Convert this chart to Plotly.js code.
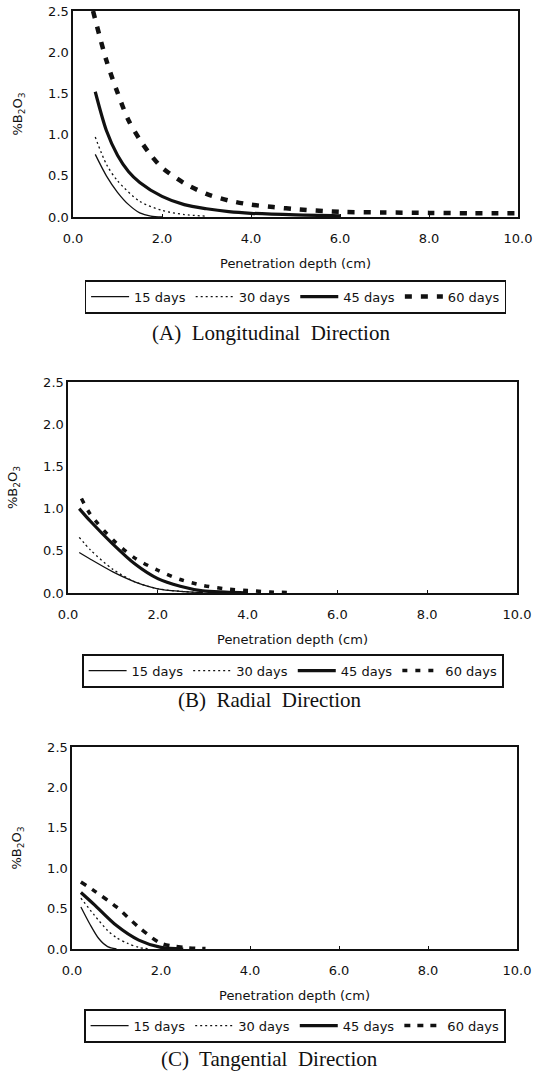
<!DOCTYPE html>
<html><head><meta charset="utf-8">
<script src="https://cdn.plot.ly/plotly-3.0.1.min.js"></script>
<style>html,body{margin:0;padding:0;background:#fff;}#chart{width:539px;height:1075px;}</style>
</head><body><div id="chart"></div>
<script>
// ---- data ----
const seriesNames = ["15 days", "30 days", "45 days", "60 days"];
const captions = ["(A)\u00a0 Longitudinal\u00a0 Direction", "(B)\u00a0 Radial\u00a0 Direction", "(C)\u00a0 Tangential\u00a0 Direction"];
const xTickVals = [0, 2, 4, 6, 8, 10];
const yTickVals = [0, 0.5, 1.0, 1.5, 2.0, 2.5];

// (A) Longitudinal
const xA15 = [0.5, 0.75, 1.0, 1.25, 1.5, 1.75, 2.0];
const yA15 = [0.76, 0.5, 0.3, 0.15, 0.05, 0.01, 0.0];
const xA30 = [0.5, 0.75, 1.0, 1.5, 2.0, 2.5, 3.0];
const yA30 = [0.97, 0.64, 0.44, 0.19, 0.08, 0.03, 0.01];
const xA45 = [0.5, 0.75, 1.0, 1.25, 1.5, 2.0, 2.5, 3.0, 3.5, 4.0, 5.0, 6.0];
const yA45 = [1.52, 1.05, 0.75, 0.55, 0.42, 0.25, 0.15, 0.1, 0.065, 0.045, 0.025, 0.015];
const xA60 = [0.45, 0.75, 1.0, 1.25, 1.5, 1.75, 2.0, 2.5, 3.0, 3.5, 4.0, 4.5, 5.0, 6.0, 7.0, 8.0, 9.0, 10.0];
const yA60 = [2.5, 1.9, 1.51, 1.17, 0.94, 0.75, 0.6, 0.41, 0.28, 0.2, 0.15, 0.12, 0.095, 0.062, 0.055, 0.05, 0.045, 0.045];

// (B) Radial
const xB15 = [0.25, 0.5, 1.0, 1.5, 2.0, 2.5, 3.0];
const yB15 = [0.48, 0.40, 0.25, 0.13, 0.05, 0.02, 0.005];
const xB30 = [0.25, 0.5, 1.0, 1.5, 2.0, 2.5, 3.0];
const yB30 = [0.66, 0.51, 0.28, 0.13, 0.05, 0.02, 0.005];
const xB45 = [0.25, 0.5, 1.0, 1.5, 2.0, 2.5, 3.0, 3.5, 4.0];
const yB45 = [1.0, 0.85, 0.58, 0.34, 0.17, 0.08, 0.025, 0.01, 0.0];
const xB60 = [0.3, 0.5, 1.0, 1.5, 2.0, 2.5, 3.0, 3.5, 4.0, 4.5, 5.0];
const yB60 = [1.12, 0.93, 0.63, 0.41, 0.27, 0.16, 0.09, 0.05, 0.03, 0.012, 0.005];

// (C) Tangential
const xC15 = [0.2, 0.4, 0.6, 0.8, 1.0];
const yC15 = [0.52, 0.31, 0.13, 0.03, 0.0];
const xC30 = [0.2, 0.5, 0.8, 1.0, 1.25, 1.5, 1.75];
const yC30 = [0.63, 0.42, 0.23, 0.14, 0.07, 0.02, 0.0];
const xC45 = [0.2, 0.5, 1.0, 1.5, 2.0, 2.5];
const yC45 = [0.7, 0.55, 0.29, 0.11, 0.02, 0.0];
const xC60 = [0.2, 0.5, 1.0, 1.5, 2.0, 2.5, 3.0];
const yC60 = [0.83, 0.72, 0.52, 0.27, 0.07, 0.02, 0.005];

// ---- styling ----
const ink = "#111";
const panels = [
  {xs: [xA15, xA30, xA45, xA60], ys: [yA15, yA30, yA45, yA60], dash60: "7px,9px", w60: 4.5},
  {xs: [xB15, xB30, xB45, xB60], ys: [yB15, yB30, yB45, yB60], dash60: "5px,8px", w60: 3.5},
  {xs: [xC15, xC30, xC45, xC60], ys: [yC15, yC30, yC45, yC60], dash60: "6px,7px", w60: 3.5}
];
const lineStyles = [
  {width: 1.3, dash: "solid"},
  {width: 1.3, dash: "2px,3px"},
  {width: 3.2, dash: "solid"},
  null
];
const legendNames = ["legend", "legend2", "legend3"];

const traces = [];
panels.forEach((p, pi) => {
  const sfx = pi === 0 ? "" : String(pi + 1);
  for (let s = 0; s < 4; s++) {
    const ls = s === 3 ? {width: p.w60, dash: p.dash60} : lineStyles[s];
    traces.push({
      type: "scatter", mode: "lines",
      x: p.xs[s], y: p.ys[s], name: seriesNames[s],
      xaxis: "x" + sfx, yaxis: "y" + sfx,
      legend: legendNames[pi],
      line: {color: ink, width: ls.width, dash: ls.dash, shape: "spline", smoothing: 0.8},
      hoverinfo: "x+y"
    });
  }
});

const tickFont = {family: "DejaVu Sans, Liberation Sans, sans-serif", size: 13, color: ink};
function xAxis(domain, anchor) {
  return {
    domain: domain, anchor: anchor, range: [0, 10],
    tickvals: xTickVals, tickformat: ".1f",
    ticks: "inside", ticklen: 3, tickcolor: ink, tickwidth: 1,
    showline: true, linecolor: ink, linewidth: 1.6, mirror: true,
    showgrid: false, zeroline: false, fixedrange: true,
    tickfont: tickFont, ticklabelstandoff: 9,
    title: {text: "Penetration depth (cm)", font: {family: "DejaVu Sans, sans-serif", size: 13, color: ink}, standoff: 13},
    automargin: false
  };
}
function yAxis(domain, anchor) {
  return {
    domain: domain, anchor: anchor, range: [0, 2.5],
    tickvals: yTickVals, tickformat: ".1f",
    ticks: "", showline: true, linecolor: ink, linewidth: 1.6, mirror: true,
    showgrid: false, zeroline: false, fixedrange: true,
    tickfont: tickFont, ticklabelstandoff: 0,
    title: {text: "%B<sub>2</sub>O<sub>3</sub>", font: {family: "DejaVu Sans, sans-serif", size: 13, color: ink}, standoff: 22},
    automargin: false
  };
}
function legendBox(xc, ytop) {
  return {
    orientation: "h", x: xc, xanchor: "center", y: ytop, yanchor: "top",
    bordercolor: ink, borderwidth: 1.6, bgcolor: "#fff",
    itemwidth: 38,
    font: {family: "DejaVu Sans, sans-serif", size: 13, color: ink},
    itemclick: false, itemdoubleclick: false
  };
}
const W = 539, H = 1075;
const px = v => v / W, py = v => 1 - v / H;

const layout = {
  width: W, height: H,
  margin: {l: 0, r: 0, t: 0, b: 0},
  paper_bgcolor: "#fff", plot_bgcolor: "#fff",
  showlegend: true,
  xaxis: xAxis([px(73), px(518)], "y"),
  yaxis: yAxis([py(217), py(11)], "x"),
  xaxis2: xAxis([px(68), px(517)], "y2"),
  yaxis2: yAxis([py(593), py(382)], "x2"),
  xaxis3: xAxis([px(72), px(517)], "y3"),
  yaxis3: yAxis([py(949), py(747)], "x3"),
  legend: legendBox(px(295.5), py(280)),
  legend2: legendBox(px(293), py(654)),
  legend3: legendBox(px(295), py(1009)),
  annotations: captions.map((c, i) => ({
    text: c, xref: "paper", yref: "paper",
    x: px([271, 270, 269][i]), y: py([333, 700, 1059][i]),
    xanchor: "center", yanchor: "middle", showarrow: false,
    font: {family: "Liberation Serif, Times New Roman, serif", size: 21, color: ink}
  }))
};

Plotly.newPlot("chart", traces, layout, {staticPlot: true, displayModeBar: false});
</script></body></html>
